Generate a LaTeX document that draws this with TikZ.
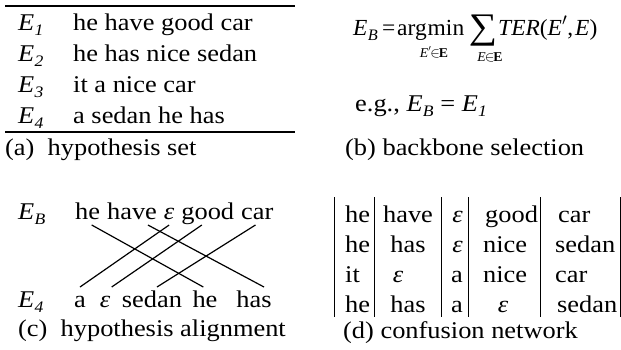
\documentclass[tikz,border=0pt]{standalone}
\usepackage{fontspec}
\usetikzlibrary{calc}
\setmainfont[FakeStretch=1.1]{Liberation Serif}
\newfontfamily\formfont[FakeStretch=1.02]{Liberation Serif}
\newcommand\Esub[1]{\textit{E}\kern0.3pt\raisebox{-0.22em}{\fontsize{16}{16}\selectfont\itshape #1}}
\newcommand\eps{\textit{ε}}
\tikzset{
  txt/.style={inner sep=0pt, anchor=base west, font=\fontsize{24}{28}\selectfont},
  ctxt/.style={txt, anchor=base},
  etxt/.style={txt, anchor=base east},
  ftxt/.style={inner sep=0pt, anchor=base west, font=\formfont\fontsize{23}{26}\selectfont},
  fsub/.style={inner sep=0pt, anchor=base, font=\formfont\fontsize{13.5}{15}\selectfont},
  hrule/.style={line width=1.6pt},
  link/.style={line width=1.2pt},
  bar/.style={line width=1pt},
}
\begin{document}
\begin{tikzpicture}[x=1pt,y=-1pt]
\useasboundingbox (0,0) rectangle (621,349);
% ---------- (a) hypothesis set
\draw[hrule] (5,6) -- (295,6);
\node[txt] (a1l) at (18,30) {\Esub{1}};
\node[txt] (a2l) at (18,61) {\Esub{2}};
\node[txt] (a3l) at (18,92) {\Esub{3}};
\node[txt] (a4l) at (18,123) {\Esub{4}};
\node[txt] (a1) at (73,30) {he have good car};
\node[txt] (a2) at (73,61) {he has nice sedan};
\node[txt] (a3) at (73,92) {it a nice car};
\node[txt] (a4) at (73,123) {a sedan he has};
\draw[hrule] (5,132) -- (295,132);
\node[txt] (capa) at (5,155) {(a)\ \ hypothesis set};
% ---------- (b) backbone selection
\node[ftxt] (fEB) at (353,35) {\Esub{B}};
\node[ftxt] (feq) at (382,35) {=};
\node[ftxt] (farg) at (397,35) {arg\kern1pt min};
\node[fsub] (fs1) at (434,57) {\textit{E}$'$\kern-1pt$\in$\kern-1pt\textbf{E}};
\node[inner sep=0pt, font=\fontsize{36}{36}\selectfont] (fsum) at (483,31) {∑};
\node[fsub] (fs2) at (490,61) {\textit{E}\kern-1pt$\in$\kern-1pt\textbf{E}};
\node[ftxt] (fter) at (498,35) {\textit{TER}(\textit{E}$'$,\kern2pt\textit{E})};
\node[txt] (eg) at (355,111) {e.g., \Esub{B} = \Esub{1}};
\node[txt] (capb) at (345,155) {(b) backbone selection};
% ---------- (c) hypothesis alignment
\node[txt] (cEB) at (18,219) {\Esub{B}};
\node[txt] (cE4) at (18,307) {\Esub{4}};
\node[txt] (t1) at (75,219) {he};
\node[txt] (t2) at ($(t1.base east)+(6.6,0)$) {have};
\node[txt] (t3) at ($(t2.base east)+(6.6,0)$) {\eps};
\node[txt] (t4) at ($(t3.base east)+(6.6,0)$) {good};
\node[txt] (t5) at ($(t4.base east)+(6.6,0)$) {car};
\node[ctxt] (b1) at (80,307) {a};
\node[ctxt] (b2) at (105,307) {\eps};
\node[ctxt] (b3) at (152,307) {sedan};
\node[ctxt] (b4) at (205,307) {he};
\node[ctxt] (b5) at (254,307) {has};
\coordinate (u1) at ($(t1.base west)+(16.7,6)$);
\coordinate (u2) at ($(t2.base west)+(41,6)$);
\coordinate (u3) at ($(t3.base)+(0,6)$);
\coordinate (u4) at ($(t4.base west)+(20.7,6)$);
\coordinate (u5) at ($(t5.base west)+(14.5,6)$);
\coordinate (v1) at ($(b4.base)+(-1.7,-20)$);
\coordinate (v2) at ($(b5.base)+(10,-20)$);
\coordinate (v3) at ($(b1.base)+(0,-20)$);
\coordinate (v4) at ($(b2.base)+(6.7,-20)$);
\coordinate (v5) at ($(b3.base)+(5,-20)$);
\draw[link] (u1) -- (v1);
\draw[link] (u2) -- (v2);
\draw[link] (u3) -- (v3);
\draw[link] (u4) -- (v4);
\draw[link] (u5) -- (v5);
\node[txt] (capc) at (18,336) {(c)\ \ hypothesis alignment};
% ---------- (d) confusion network
\foreach \x [count=\i] in {334,374,441,468,540,620}
  \draw[bar] (\x,197) coordinate (bt\i) -- (\x,317) coordinate (bb\i);
\node[txt] (d11) at (345,222) {he};
\node[txt] (d21) at (345,252) {he};
\node[txt] (d31) at (345,282) {it};
\node[txt] (d41) at (345,312) {he};
\node[ctxt] (d12) at (408,222) {have};
\node[ctxt] (d22) at (408,252) {has};
\node[ctxt] (d32) at (398,282) {\eps};
\node[ctxt] (d42) at (408,312) {has};
\node[etxt] (d13) at (463,222) {\eps};
\node[etxt] (d23) at (463,252) {\eps};
\node[etxt] (d33) at (463,282) {a};
\node[etxt] (d43) at (463,312) {a};
\node[txt] (d14) at (485,222) {good};
\node[txt] (d24) at (483,252) {nice};
\node[txt] (d34) at (483,282) {nice};
\node[ctxt] (d44) at (503,312) {\eps};
\node[txt] (d15) at (558,222) {car};
\node[txt] (d25) at (555,252) {sedan};
\node[txt] (d35) at (555,282) {car};
\node[txt] (d45) at (557,312) {sedan};
\node[txt] (capd) at (343,338) {(d) confusion network};
\end{tikzpicture}
\end{document}
